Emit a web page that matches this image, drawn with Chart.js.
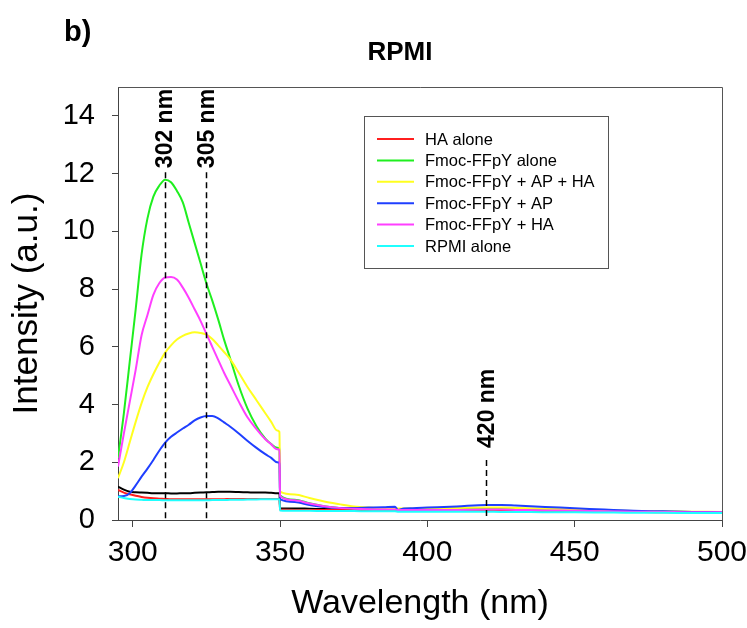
<!DOCTYPE html>
<html><head><meta charset="utf-8">
<script src="https://cdn.jsdelivr.net/npm/chart.js@4"></script>
<style>html,body{margin:0;padding:0;background:#fff}#wrap{width:747px;height:628px}</style>
</head><body><div id="wrap"><canvas id="c" width="747" height="628"></canvas></div>
<script>
const wavelengths = [295,297,299,301,303,305,307,309,311,313,315,317,319,321,323,325,327,329,331,333,336,339,342,345,347,349,349.8,350,355,360,365,370,375,380,385,389,390,392,395,400,410,420,425,430,440,450,460,470,480,490,500];
const haAlone = [1.04,0.95,0.89,0.84,0.8,0.77,0.75,0.74,0.73,0.72,0.72,0.72,0.72,0.72,0.72,0.72,0.72,0.72,0.72,0.73,0.73,0.73,0.73,0.73,0.73,0.73,0.73,
 0.36,0.35,0.35,0.35,0.35,0.34,0.34,0.34, 0.34,0.33,0.33,0.33,0.33, 0.33,0.33,0.33,0.32,0.31,0.3,0.29,0.28,0.27,0.27,0.26];
const fmocAlone = [2.15,3.7,5.5,7.3,9.2,10.45,11.2,11.58,11.79,11.7,11.4,11.0,10.3,9.6,8.9,8.2,7.6,6.95,6.25,5.62,4.65,3.85,3.25,2.82,2.63,2.5,2.48,
 0.85,0.7,0.58,0.48,0.42,0.4,0.38,0.37, 0.37,0.36,0.36,0.36,0.37, 0.38,0.38,0.38,0.37,0.35,0.33,0.31,0.3,0.29,0.28,0.27];
const fmocApHa = [1.45,2.0,2.7,3.4,4.05,4.6,5.05,5.45,5.8,6.05,6.25,6.38,6.46,6.5,6.48,6.42,6.27,6.05,5.82,5.58,5.1,4.6,4.15,3.7,3.4,3.1,3.05,
 0.98,0.88,0.76,0.64,0.55,0.47,0.43,0.41, 0.41,0.4,0.4,0.4,0.41, 0.42,0.43,0.43,0.42,0.39,0.36,0.33,0.31,0.3,0.29,0.28];
const fmocAp = [0.82,0.83,0.93,1.2,1.5,1.78,2.08,2.4,2.68,2.88,3.03,3.17,3.3,3.45,3.55,3.6,3.6,3.52,3.38,3.24,3.0,2.74,2.5,2.28,2.15,2.0,1.97,
 0.72,0.62,0.52,0.45,0.42,0.42,0.43,0.44, 0.46,0.35,0.4,0.41,0.43, 0.47,0.52,0.52,0.5,0.45,0.41,0.36,0.32,0.3,0.28,0.27];
const fmocHa = [1.85,3.0,4.1,5.2,6.4,7.1,7.8,8.2,8.4,8.42,8.33,8.05,7.7,7.3,6.9,6.45,6.0,5.55,5.1,4.7,4.1,3.55,3.15,2.8,2.62,2.45,2.43,
 0.82,0.68,0.57,0.48,0.42,0.39,0.37,0.36, 0.36,0.35,0.35,0.35,0.35, 0.35,0.36,0.36,0.35,0.33,0.32,0.3,0.29,0.28,0.27,0.27];
const rpmiAlone = [0.81,0.76,0.73,0.71,0.7,0.69,0.69,0.69,0.68,0.68,0.68,0.68,0.68,0.68,0.68,0.68,0.69,0.69,0.69,0.7,0.7,0.71,0.71,0.72,0.72,0.72,0.72,
 0.33,0.32,0.32,0.31,0.31,0.31,0.3,0.3, 0.3,0.29,0.29,0.29,0.29, 0.29,0.29,0.28,0.28,0.27,0.27,0.26,0.25,0.25,0.24,0.24];
const unlabeledBlack = [1.16,1.05,0.98,0.96,0.95,0.94,0.93,0.93,0.93,0.92,0.92,0.93,0.93,0.94,0.95,0.96,0.97,0.98,0.98,0.98,0.97,0.96,0.95,0.95,0.94,0.93,0.93,
 0.41,0.4,0.39,0.38,0.37,0.36,0.35,0.35, 0.35,0.34,0.34,0.34,0.34, 0.34,0.34,0.34,0.33,0.32,0.31,0.3,0.29,0.28,0.27,0.26];

const seriesLabels = ['HA alone','Fmoc-FFpY alone','Fmoc-FFpY + AP + HA','Fmoc-FFpY + AP','Fmoc-FFpY + HA','RPMI alone',''];
const seriesValues = [haAlone, fmocAlone, fmocApHa, fmocAp, fmocHa, rpmiAlone, unlabeledBlack];
const seriesColors = ['#ff1f1f','#1fef1f','#ffff1f','#1f3fff','#ff3fff','#1fffff','#000000'];
const seriesOrder = [5,4,3,2,1,0,6];

const xTicks = [300,350,400,450,500];
const yTicks = [0,2,4,6,8,10,12,14];
const markerWavelengths = [311,325,420];
const markerLabels = ['302 nm','305 nm','420 nm'];
const markerTops = [12.05,12.05,2.08];

const FONT = "'Liberation Sans', Arial, sans-serif";

const datasets = seriesValues.map((vals,i)=>({
  label: seriesLabels[i],
  data: wavelengths.map((w,j)=>({x:w, y:vals[j]})),
  borderColor: seriesColors[i],
  backgroundColor: seriesColors[i],
  borderWidth: 2,
  pointRadius: 0,
  cubicInterpolationMode: 'monotone',
  fill: false,
  order: seriesOrder[i]
}));

const decor = {
  id: 'decor',
  afterDatasetsDraw(chart){
    const ctx = chart.ctx, a = chart.chartArea;
    const xs = chart.scales.x, ys = chart.scales.y;
    ctx.save();
    ctx.strokeStyle = '#555'; ctx.lineWidth = 1;
    ctx.beginPath();
    ctx.moveTo(a.left, a.top+0.5); ctx.lineTo(a.right+0.5, a.top+0.5); ctx.lineTo(a.right+0.5, a.bottom);
    ctx.stroke();
    ctx.strokeStyle = '#000'; ctx.lineWidth = 1.5; ctx.setLineDash([6,4]);
    markerWavelengths.forEach((w,i)=>{
      const px = Math.round(xs.getPixelForValue(w))+0.5;
      const top = ys.getPixelForValue(markerTops[i]);
      ctx.beginPath(); ctx.moveTo(px, top); ctx.lineTo(px, a.bottom); ctx.stroke();
    });
    ctx.setLineDash([]);
    ctx.fillStyle = '#000';
    ctx.font = 'bold 23px ' + FONT;
    markerWavelengths.forEach((w,i)=>{
      const px = xs.getPixelForValue(w);
      const top = ys.getPixelForValue(markerTops[i]);
      ctx.save();
      ctx.translate(px, top - (i===2 ? 12 : 4));
      ctx.rotate(-Math.PI/2);
      ctx.textAlign = 'left'; ctx.textBaseline = 'middle';
      ctx.fillText(markerLabels[i], 0, 1);
      ctx.restore();
    });
    const lx = 364, ly = 116, lw = 244, lh = 152;
    ctx.fillStyle = '#fff'; ctx.fillRect(lx, ly, lw, lh);
    ctx.strokeStyle = '#555'; ctx.lineWidth = 1;
    ctx.strokeRect(lx+0.5, ly+0.5, lw, lh);
    ctx.font = '16.5px ' + FONT; ctx.textBaseline = 'middle'; ctx.textAlign = 'left';
    let row = 0;
    chart.data.datasets.forEach(ds=>{
      if(!ds.label) return;
      const y = 139 + row*21.4;
      ctx.strokeStyle = ds.borderColor; ctx.lineWidth = 2;
      ctx.beginPath(); ctx.moveTo(377, y); ctx.lineTo(414, y); ctx.stroke();
      ctx.fillStyle = '#000';
      ctx.fillText(ds.label, 425, y+1);
      row++;
    });
    ctx.fillStyle = '#000';
    ctx.font = 'bold 26px ' + FONT; ctx.textAlign = 'center'; ctx.textBaseline = 'alphabetic';
    ctx.fillText('RPMI', 400, 60);
    ctx.font = 'bold 29px ' + FONT; ctx.textAlign = 'left';
    ctx.fillText('b)', 64, 41);
    ctx.restore();
  }
};

new Chart(document.getElementById('c'), {
  type: 'line',
  data: { datasets },
  options: {
    responsive: false,
    animation: false,
    devicePixelRatio: 1,
    layout: { padding: { top: 87, right: 25, left: 0, bottom: 0 } },
    plugins: { legend: { display: false }, title: { display: false }, tooltip: { enabled: false } },
    scales: {
      x: {
        type: 'linear', min: 295, max: 500,
        afterBuildTicks: s => { s.ticks = xTicks.map(v=>({value:v})); },
        afterFit: s => { s.height = 108; s.paddingLeft = 0; s.paddingRight = 0; },
        grid: { drawOnChartArea: false, drawTicks: true, tickLength: 7, tickColor: '#444' },
        border: { display: true, color: '#444', width: 1 },
        ticks: { color: '#000', font: { family: FONT, size: 30 }, padding: 8, maxRotation: 0, autoSkip: false },
        title: { display: true, text: 'Wavelength (nm)', color: '#000', font: { family: FONT, size: 34, lineHeight: 1 }, padding: { top: 0, bottom: 7 } }
      },
      y: {
        type: 'linear', min: 0, max: 15,
        afterBuildTicks: s => { s.ticks = yTicks.map(v=>({value:v})); },
        afterFit: s => { s.width = 118; s.paddingTop = 0; s.paddingBottom = 0; },
        grid: { drawOnChartArea: false, drawTicks: true, tickLength: 6, tickColor: '#444' },
        border: { display: true, color: '#444', width: 1 },
        ticks: { color: '#000', font: { family: FONT, size: 29 }, padding: 17, autoSkip: false },
        title: { display: true, text: 'Intensity (a.u.)', color: '#000', font: { family: FONT, size: 35, lineHeight: 1 }, padding: { top: 10, bottom: 0 } }
      }
    }
  },
  plugins: [decor]
});
</script>
</body></html>
